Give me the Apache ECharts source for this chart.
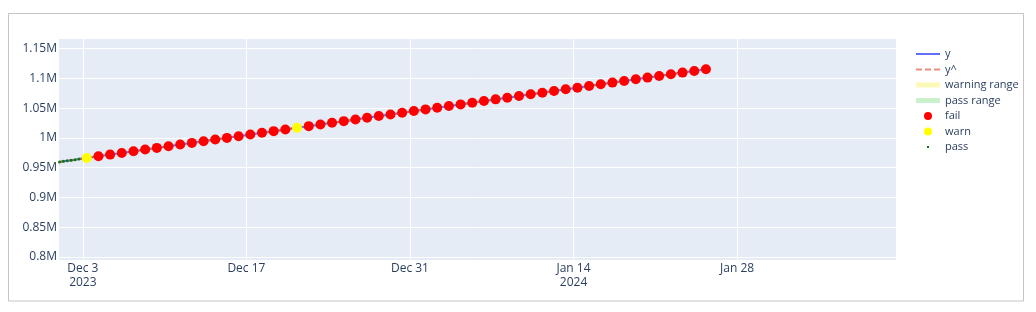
<!DOCTYPE html>
<html>
<head>
<meta charset="utf-8">
<script src="https://cdn.jsdelivr.net/npm/echarts@6/dist/echarts.min.js"></script>
<style>html,body{margin:0;padding:0;background:#fff;}#c{width:1036px;height:312px;}</style>
</head>
<body>
<div id="c"></div>
<script>
// ---- data ----
const passTimes = ['2023-12-01T00:00','2023-12-01T08:00','2023-12-01T16:00','2023-12-02T00:00','2023-12-02T08:00','2023-12-02T16:00'];
const passValues = [959700, 960600, 961600, 962500, 963400, 964400];
const dailyStart = '2023-12-03T08:00';
const dailyValues = [966300, 969100, 971900, 974700, 977500, 980400, 983200, 986000, 988800, 991600,
  994400, 997200, 1000000, 1002800, 1005600, 1008500, 1011300, 1014100, 1016900, 1019700,
  1022500, 1025300, 1028100, 1030900, 1033700, 1036600, 1039400, 1042200, 1045000, 1047800,
  1050600, 1053400, 1056200, 1059000, 1061800, 1064700, 1067500, 1070300, 1073100, 1075900,
  1078700, 1081500, 1084300, 1087100, 1089900, 1092800, 1095600, 1098400, 1101200, 1104000,
  1106800, 1109600, 1112400, 1115200];
const warnIndices = [0, 18];
const xTickDates = ['2023-12-03', '2023-12-17', '2023-12-31', '2024-01-14', '2024-01-28'];
const yTickValues = [800000, 850000, 900000, 950000, 1000000, 1050000, 1100000, 1150000];
const yTickLabels = ['0.8M', '0.85M', '0.9M', '0.95M', '1M', '1.05M', '1.1M', '1.15M'];
const legendNames = ['y', 'y^', 'warning range', 'pass range', 'fail', 'warn', 'pass'];

// ---- build ----
const toMs = s => Date.parse(s + (s.length > 10 ? ':00Z' : 'T00:00:00Z'));
const DAY = 86400000;
const t0 = toMs(dailyStart);
const dailyPts = dailyValues.map((v, i) => [t0 + i * DAY, v]);
const passPts = passTimes.map((t, i) => [toMs(t), passValues[i]]);
const warnPts = dailyPts.filter((p, i) => warnIndices.includes(i));
const failPts = dailyPts.filter((p, i) => !warnIndices.includes(i));
const allPts = passPts.concat(dailyPts);
const xTicks = xTickDates.map(toMs);
const MON = ['Jan','Feb','Mar','Apr','May','Jun','Jul','Aug','Sep','Oct','Nov','Dec'];
const fmtX = v => {
  const d = new Date(v);
  return MON[d.getUTCMonth()] + ' ' + d.getUTCDate();
};
const seenYear = {};
const yearLabel = {};
xTicks.forEach(t => {
  const y = new Date(t).getUTCFullYear();
  if (!seenYear[y]) { seenYear[y] = true; yearLabel[t] = y; }
});

const txt = '#2a3f5f';
const font = '"Open Sans", "Liberation Sans", Arial, sans-serif';
const lineIcon = 'path://M0,0M24,8M0,3L24,3L24,5L0,5Z';
const dashIcon = 'path://M0,0M24,8M0,3L6,3L6,5L0,5ZM9,3L15,3L15,5L9,5ZM18,3L24,3L24,5L18,5Z';
const bandIcon = 'path://M0,0M24,8M0,1.5L24,1.5L24,6.5L0,6.5Z';
const dotIcon = 'path://M0,0M24,8M16,4A4,4 0 1,1 8,4A4,4 0 1,1 16,4Z';
const tinyIcon = 'path://M0,0M24,8M11,3L13,3L13,5L11,5Z';

const chart = echarts.init(document.getElementById('c'), null, {renderer: 'canvas'});
chart.setOption({
  animation: false,
  backgroundColor: '#fff',
  graphic: [{
    type: 'rect', z: -10, silent: true,
    shape: {x: 8.5, y: 13.5, width: 1015, height: 287.5},
    style: {fill: 'none', stroke: '#c4c4c4', lineWidth: 1}
  }],
  grid: {left: 59, right: 140, top: 39, bottom: 52, show: true, backgroundColor: '#e5ecf6', borderWidth: 0},
  xAxis: {
    type: 'value',
    min: Date.parse('2023-11-30T23:00:00Z'),
    max: Date.parse('2024-02-10T14:30:00Z'),
    axisLine: {show: false},
    axisTick: {show: false, customValues: xTicks},
    splitLine: {show: true, lineStyle: {color: '#fff', width: 1}},
    axisLabel: {
      customValues: xTicks,
      color: txt, fontSize: 12, fontFamily: font, margin: 2, lineHeight: 14,
      formatter: v => yearLabel[v] ? fmtX(v) + '\n' + yearLabel[v] : fmtX(v)
    }
  },
  yAxis: {
    type: 'value',
    min: 795000, max: 1166000,
    axisLine: {show: false},
    axisTick: {show: false, customValues: yTickValues},
    splitLine: {show: true, lineStyle: {color: '#fff', width: 1}},
    axisLabel: {
      customValues: yTickValues,
      color: txt, fontSize: 12, fontFamily: font, margin: 2,
      formatter: v => yTickLabels[yTickValues.indexOf(v)]
    }
  },
  legend: {
    orient: 'vertical', left: 911, top: 43.5,
    itemWidth: 24, itemHeight: 8, itemGap: 4.5,
    textStyle: {color: txt, fontSize: 11, fontFamily: font},
    data: [
      {name: 'y', icon: lineIcon, itemStyle: {color: '#636efa'}},
      {name: 'y^', icon: dashIcon, itemStyle: {color: '#e8907a'}},
      {name: 'warning range', icon: bandIcon, itemStyle: {color: '#fbf8b8'}},
      {name: 'pass range', icon: bandIcon, itemStyle: {color: '#c9f2cb'}},
      {name: 'fail', icon: dotIcon, itemStyle: {color: '#ff0000'}},
      {name: 'warn', icon: dotIcon, itemStyle: {color: '#ffff00'}},
      {name: 'pass', icon: tinyIcon, itemStyle: {color: '#0a7a0a'}}
    ]
  },
  series: [
    {name: 'y', type: 'line', data: allPts, symbol: 'none', lineStyle: {color: '#636efa', width: 2}, itemStyle: {color: '#636efa'}, z: 2},
    {name: 'y^', type: 'line', data: allPts, symbol: 'none', lineStyle: {color: '#ef553b', width: 2, type: [5, 5], opacity: 0.8}, itemStyle: {color: '#e8907a'}, z: 3},
    {name: 'warning range', type: 'line', data: [], symbol: 'none', lineStyle: {color: '#fbf8b8'}, itemStyle: {color: '#fbf8b8'}},
    {name: 'pass range', type: 'line', data: [], symbol: 'none', lineStyle: {color: '#c9f2cb'}, itemStyle: {color: '#c9f2cb'}},
    {name: 'fail', type: 'scatter', data: failPts, symbolSize: 10, itemStyle: {color: '#ff0000', opacity: 1}, z: 5},
    {name: 'warn', type: 'scatter', data: warnPts, symbolSize: 10, itemStyle: {color: '#ffff00', opacity: 1}, z: 5},
    {name: 'pass', type: 'scatter', data: passPts, symbolSize: 3, itemStyle: {color: '#0a7a0a', opacity: 1}, z: 5}
  ]
});
</script>
</body>
</html>
